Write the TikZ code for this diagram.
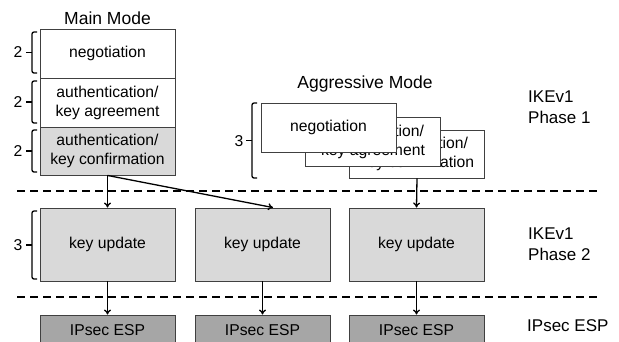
\documentclass[tikz,border=0pt]{standalone}
\usepackage{fontspec}
\setmainfont{Liberation Sans}
\usetikzlibrary{arrows.meta}
\definecolor{lightfill}{HTML}{D9D9D9}
\definecolor{darkfill}{HTML}{A6A6A6}
\definecolor{bordercol}{HTML}{404040}
\tikzset{
  box/.style={draw=bordercol, line width=0.9pt, fill=white, minimum width=135pt, inner sep=0pt, align=center, font=\fontsize{15.7}{19}\selectfont},
  lbox/.style={box, fill=lightfill},
  dbox/.style={box, fill=darkfill},
  conn/.style={line width=1.3pt, -{To[length=5pt,width=7pt]}},
  sep/.style={line width=1.3pt, dash pattern=on 8pt off 5pt},
  brk/.style={line width=1.3pt, rounded corners=2pt},
  title/.style={font=\fontsize{17.5}{21}\selectfont, inner sep=0pt},
  side/.style={font=\fontsize{17}{21}\selectfont, inner sep=0pt, align=left, anchor=west},
  num/.style={font=\fontsize{15.7}{19}\selectfont, inner sep=0pt}
}
\begin{document}
\begin{tikzpicture}[x=1pt,y=-1pt]
\useasboundingbox (0,0) rectangle (619,341);
% titles
\node[title] (mmt) at (107.5,18) {Main Mode};
\node[title] (amt) at (365,84) {Aggressive Mode};
% main mode column
\node[box, minimum height=49pt] (mneg) at (107.5,53.5) {negotiation};
\node[box, minimum height=49pt] (mauth) at (107.5,102.5) {authentication/\\key agreement};
\node[lbox, minimum height=48pt] (mconf) at (107.5,151) {authentication/\\key confirmation};
% aggressive mode stack
\node[box, minimum height=48pt] (ag3) at (417,154) {authentication/\\key confirmation};
\node[box, minimum height=49pt] (ag2) at (373,141.5) {authentication/\\key agreement};
\node[box, minimum height=49pt] (ag1) at (328.5,127.5) {negotiation};
% key update
\node[lbox, minimum height=73pt] (ku1) at (107.5,244.5) {key update};
\node[lbox, minimum height=73pt] (ku2) at (262.5,244.5) {key update};
\node[lbox, minimum height=73pt] (ku3) at (416.5,244.5) {key update};
% ipsec
\node[dbox, minimum height=30pt, text depth=0pt] (esp1) at (107.5,330) {IPsec ESP};
\node[dbox, minimum height=30pt] (esp2) at (262.5,330) {IPsec ESP};
\node[dbox, minimum height=30pt] (esp3) at (416.5,330) {IPsec ESP};
% side labels
\node[side] (p1) at (528,107) {IKEv1\\Phase 1};
\node[side] (p2) at (528,244) {IKEv1\\Phase 2};
\node[side] (p3) at (527,326) {IPsec ESP};
% dashed separators
\coordinate (d1a) at (17,191);
\coordinate (d1b) at (600,191);
\coordinate (d2a) at (17,297);
\coordinate (d2b) at (600,297);
\draw[sep] (d1a) -- (d1b);
\draw[sep] (d2a) -- (d2b);
% connectors
\draw[conn] (mconf.south) -- (ku1.north);
\draw[conn] (mconf.south) -- ([xshift=10.5pt]ku2.north);
\draw[conn] (ag3.south) -- (ku3.north);
\draw[conn] (ku1.south) -- (esp1.north);
\draw[conn] (ku2.south) -- (esp2.north);
\draw[conn] (ku3.south) -- (esp3.north);
% brackets
\foreach \t/\b/\n/\nm in {32/73/2/b1, 81/123/2/b2, 130/172/2/b3, 211/279/3/b4}{
  \draw[brk] (37,\t) -- (32,\t) -- (32,\b) -- (37,\b);
  \draw[line width=1.3pt] (26,{(\t+\b)/2}) -- (32,{(\t+\b)/2});
  \node[num] (\nm) at (18,{(\t+\b)/2}) {\n};
}
\draw[brk] (257,103) -- (252,103) -- (252,178) -- (257,178);
\draw[line width=1.3pt] (246,140.5) -- (252,140.5);
\node[num] (b5) at (239,141) {3};
\end{tikzpicture}
\end{document}
